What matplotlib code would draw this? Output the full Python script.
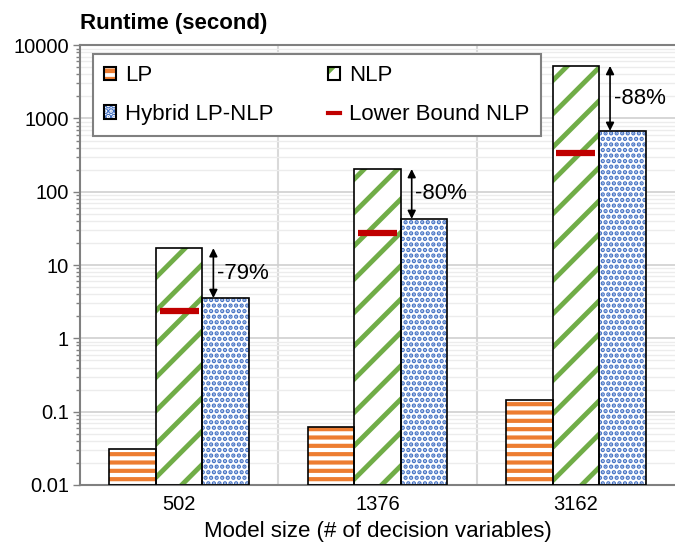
import numpy as np
import matplotlib
matplotlib.use('Agg')
import matplotlib.pyplot as plt
from matplotlib.patches import Patch
from matplotlib.lines import Line2D
from matplotlib.legend_handler import HandlerTuple
from matplotlib.ticker import LogLocator, FuncFormatter

plt.rcParams['font.family'] = ['Liberation Sans', 'DejaVu Sans']
plt.rcParams['hatch.linewidth'] = 3.3

# data
sizes = ['502', '1376', '3162']
lp = [0.031, 0.062, 0.145]
nlp = [17.0, 204.0, 5200.0]
hybrid = [3.55, 42.6, 676.0]
lower_nlp = [2.36, 27.4, 338.0]
reduction = ['-79%', '-80%', '-88%']

orange = '#ED7D31'
green = '#70AD47'
blue = '#4472C4'
red = '#C00000'

fig = plt.figure(figsize=(6.75, 5.44), dpi=100)
ax = fig.add_axes([0.1185, 0.1085, 0.8815, 0.8085])

x = np.arange(len(sizes))
w = 0.235
bottom = 0.01

def hatched_bars(xpos, vals, col, hatch, hlw):
    with plt.rc_context({'hatch.linewidth': hlw}):
        ax.bar(xpos, np.array(vals) - bottom, w, bottom=bottom, facecolor='white',
               edgecolor=col, hatch=hatch, linewidth=0, zorder=2)
    ax.bar(xpos, np.array(vals) - bottom, w, bottom=bottom, fill=False,
           edgecolor='black', linewidth=1.2, zorder=3)

hatched_bars(x - w, lp, orange, '--', 3.0)
hatched_bars(x, nlp, green, '/', 3.5)
hatched_bars(x + w, hybrid, blue, '...', 2.2)

# lower bound markers
for i in range(len(sizes)):
    ax.plot([x[i] - 0.42 * w, x[i] + 0.42 * w], [lower_nlp[i]] * 2,
            color=red, lw=4.5, solid_capstyle='butt', zorder=4)

# reduction arrows
for i in range(len(sizes)):
    xa = x[i] + w / 2 + 0.055
    ax.annotate('', xy=(xa, hybrid[i]), xytext=(xa, nlp[i]),
                arrowprops=dict(arrowstyle='<|-|>', color='black', lw=1.2,
                                shrinkA=0, shrinkB=0, mutation_scale=12),
                zorder=5)
    ym = np.sqrt(nlp[i] * hybrid[i])
    ax.text(xa + 0.018, ym, reduction[i], fontsize=16, va='center', ha='left', zorder=5)

ax.set_yscale('log')
ax.set_ylim(0.01, 10000)
ax.set_xlim(-0.5, 2.5)
ax.yaxis.set_major_locator(LogLocator(base=10, numticks=10))
ax.yaxis.set_minor_locator(LogLocator(base=10, subs=np.arange(2, 10), numticks=10))
ax.yaxis.set_major_formatter(FuncFormatter(lambda v, p: '%g' % v))
ax.tick_params(axis='y', which='major', length=5, width=1, color='#808080',
               labelsize=14.5, pad=3)
ax.tick_params(axis='y', which='minor', length=3, width=1, color='#808080')
ax.set_xticks(x)
ax.set_xticklabels(sizes)
ax.set_xticks([0.5, 1.5], minor=True)
ax.tick_params(axis='x', which='both', length=0, labelsize=14.5, pad=7)

ax.grid(axis='y', which='major', color='#d0d0d0', lw=1.2, zorder=0)
ax.grid(axis='y', which='minor', color='#ececec', lw=1, zorder=0)
ax.grid(axis='x', which='minor', color='#d9d9d9', lw=1.5, zorder=0)
ax.set_axisbelow(True)

for s in ['left', 'bottom', 'top']:
    ax.spines[s].set_color('#808080')
    ax.spines[s].set_linewidth(1.5)
ax.spines['right'].set_visible(False)

ax.set_xlabel('Model size (# of decision variables)', fontsize=16, labelpad=5)
fig.text(0.118, 0.957, 'Runtime (second)', fontsize=16, fontweight='bold',
         ha='left', va='center')

def legend_patch(col, hatch, hlw):
    with plt.rc_context({'hatch.linewidth': hlw}):
        p = Patch(facecolor='white', edgecolor=col, hatch=hatch, linewidth=0)
    return (p, Patch(fill=False, edgecolor='black', linewidth=1.5))

h_lp = legend_patch(orange, '--', 3.0)
h_nlp = legend_patch(green, '/', 3.5)
h_hy = legend_patch(blue, '...', 2.2)
h_lb = Line2D([], [], color=red, lw=3)
leg = ax.legend([h_lp, h_hy, h_nlp, h_lb],
                ['LP', 'Hybrid LP-NLP', 'NLP', 'Lower Bound NLP'],
                handler_map={tuple: HandlerTuple(ndivide=1, pad=0)},
                ncol=2, loc='upper left', bbox_to_anchor=(0.022, 0.98),
                borderaxespad=0,
                fontsize=16, frameon=True, fancybox=False, framealpha=1,
                edgecolor='#808080', handlelength=0.55, handleheight=0.55,
                handletextpad=0.4, columnspacing=2.45, labelspacing=0.8,
                borderpad=0.5)
leg.get_frame().set_linewidth(1.5)

plt.savefig('out.png', dpi=100)
